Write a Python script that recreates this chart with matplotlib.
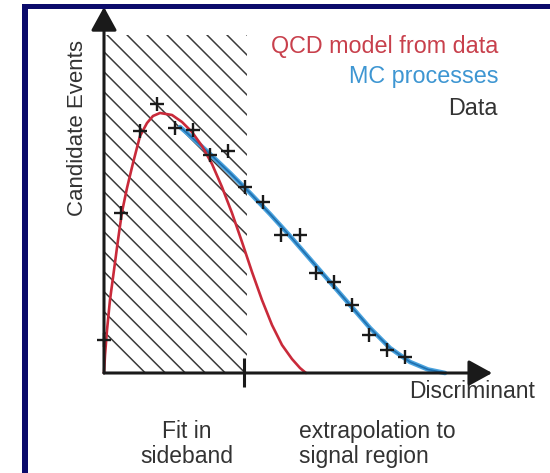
import numpy as np
import matplotlib
matplotlib.use('Agg')
import matplotlib.pyplot as plt
from matplotlib.patches import Rectangle

plt.rcParams['font.family'] = ['Liberation Sans', 'DejaVu Sans']

# measured data (discriminant bins, event counts)
data_x = [0.0, 0.49, 1.03, 1.51, 2.03, 2.54, 3.03, 3.54, 4.03, 4.54,
          5.06, 5.6, 6.06, 6.57, 7.09, 7.57, 8.09, 8.6]
data_y = [1.1, 5.33, 8.07, 8.97, 8.17, 8.1, 7.27, 7.4, 6.2, 5.7,
          4.6, 4.6, 3.33, 3.03, 2.27, 1.27, 0.77, 0.53]

# QCD shape fitted in the sideband
qcd_x = [0.0, 0.029, 0.086, 0.171, 0.286, 0.4, 0.514, 0.657, 0.829, 1.029,
         1.229, 1.4, 1.6, 1.943, 2.229, 2.514, 2.8, 3.086, 3.371, 3.657,
         3.943, 4.229, 4.514, 4.8, 5.086, 5.371, 5.6, 5.771]
qcd_y = [0.0, 0.6, 1.433, 2.433, 3.433, 4.433, 5.367, 6.167, 7.0, 7.9,
         8.333, 8.567, 8.667, 8.6, 8.367, 8.033, 7.567, 6.967, 6.2, 5.333,
         4.367, 3.367, 2.433, 1.6, 0.933, 0.467, 0.167, 0.0]

# MC prediction
mc_x = [2.171, 2.371, 3.029, 3.6, 4.171, 4.743, 5.314, 5.886, 6.457,
        7.029, 7.6, 8.171, 8.743, 9.257, 9.743]
mc_y = [8.2, 8.0, 7.3, 6.667, 6.0, 5.3, 4.567, 3.8, 3.033,
        2.267, 1.5, 0.833, 0.367, 0.117, 0.0]

sideband_edge = 4.0
hatch_top = 11.27

fig = plt.figure(figsize=(5.5, 4.73), dpi=100)
ax = fig.add_axes([0, 0, 1, 1])
ax.set_xlim(-104 / 35, 446 / 35)
ax.set_ylim(-100 / 30, 373 / 30)
ax.axis('off')

# hatched sideband region
box = Rectangle((0, 0), 4.09, hatch_top, fill=False, lw=0)
ax.add_patch(box)
slope = 35 / 30
for c in np.arange(0.657 - 0.571 * 16, 4.2, 0.571):
    ln, = ax.plot([c, c + hatch_top / slope], [hatch_top, 0],
                  color='#3a3a3a', lw=1.1, zorder=1)
    ln.set_clip_path(box)

# curves
ax.plot(mc_x, mc_y, color='#4aa3de', lw=3.3, zorder=2,
        solid_joinstyle='round', solid_capstyle='round')
ax.plot(mc_x, mc_y, color='#1f6fae', lw=1.2, zorder=2,
        solid_joinstyle='round', solid_capstyle='round')
ax.plot(qcd_x, qcd_y, color='#c92a3a', lw=1.9, zorder=3,
        solid_joinstyle='round', solid_capstyle='round')

ax.plot(data_x, data_y, ls='none', marker='+', ms=10.5, mew=1.7,
        color='#1a1a1a', zorder=4)

# axes with arrow heads
arrow = dict(arrowstyle='-|>,head_length=0.4,head_width=0.22',
             lw=2.2, color='#1a1a1a', mutation_scale=36,
             shrinkA=0, shrinkB=0)
ax.annotate('', xy=(11.09, 0), xytext=(0, 0), arrowprops=arrow, zorder=5)
ax.annotate('', xy=(0, 12.2), xytext=(0, 0), arrowprops=arrow, zorder=5)
ax.vlines(sideband_edge, -0.47, 0.5, color='#1a1a1a', lw=2.2, zorder=5)

txt = '#333333'
ax.text(-0.743, 8.17, 'Candidate Events', rotation=90, ha='center',
        va='center', fontsize=16, color=txt)
ax.text(12.31, -0.63, 'Discriminant', ha='right', va='center',
        fontsize=16.5, color=txt)
ax.text(2.37, -2.37, 'Fit in\nsideband', ha='center', va='center',
        multialignment='center', linespacing=1.1, fontsize=16.5, color=txt)
ax.text(5.57, -2.37, 'extrapolation to\nsignal region', ha='left',
        va='center', linespacing=1.1, fontsize=16.5, color=txt)

ax.text(11.26, 10.87, 'QCD model from data', ha='right', va='center',
        fontsize=16.8, color='#c8404c')
ax.text(11.26, 9.9, 'MC processes', ha='right', va='center',
        fontsize=16.8, color='#3e96d2')
ax.text(11.26, 8.83, 'Data', ha='right', va='center',
        fontsize=16.8, color=txt)

# frame on the left and top
W, H = 550, 473
fig.add_artist(Rectangle((22 / W, 0), 6 / W, (H - 4) / H,
                         transform=fig.transFigure, color='#0b0b6b', lw=0))
fig.add_artist(Rectangle((22 / W, (H - 9) / H), (W - 22) / W, 5 / H,
                         transform=fig.transFigure, color='#0b0b6b', lw=0))

fig.savefig('out.png', dpi=100)
